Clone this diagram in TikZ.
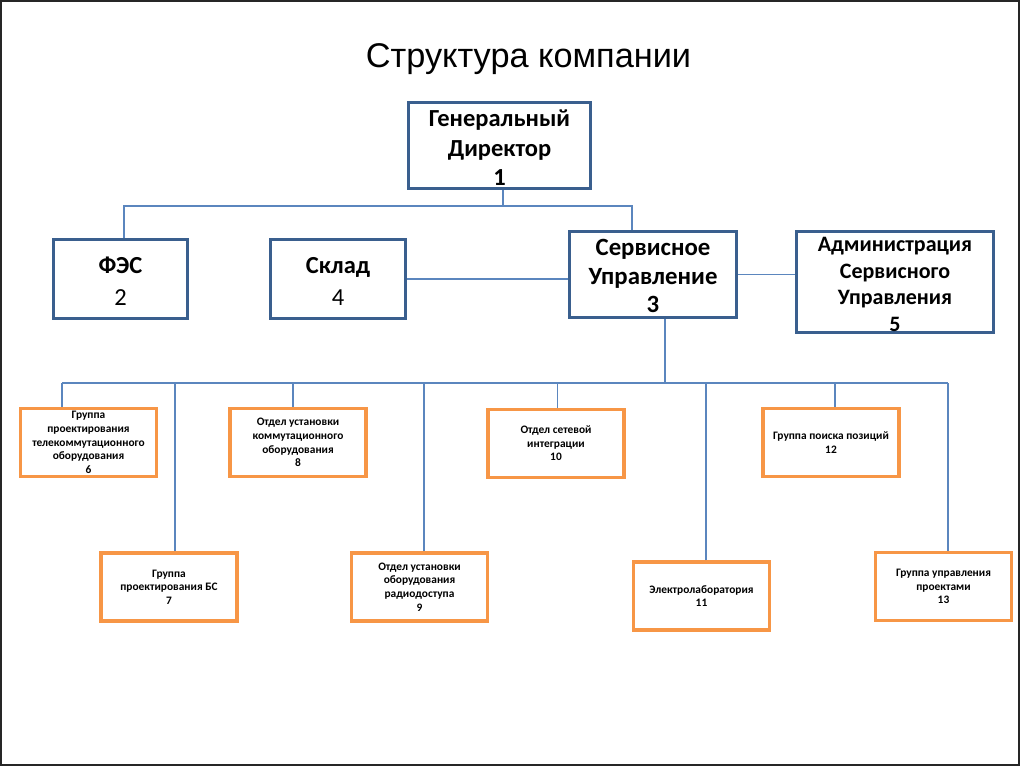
\documentclass[tikz,border=0pt]{standalone}
\usepackage{fontspec}
\setmainfont{Carlito}
\newfontfamily\arialf{Liberation Sans}
\definecolor{darkb}{HTML}{3A5F8E}
\definecolor{lightb}{HTML}{5B86BE}
\definecolor{orng}{HTML}{F79646}
\tikzset{
  mainbox/.style={draw=darkb, line width=3pt, fill=white, inner sep=0pt},
  boxtext/.style={align=center, inner sep=0pt},
  subbox/.style={draw=orng, line width=3.4pt, fill=white, align=center, inner sep=0pt,
     minimum width=136pt, minimum height=68pt,
     font=\fontsize{11.4}{13.6}\selectfont\bfseries},
  conn/.style={draw=lightb, line width=1.2pt},
}
\begin{document}
\begin{tikzpicture}[x=1pt,y=-1pt]
\useasboundingbox (0,0) rectangle (1024,768);
\fill[white] (0,0) rectangle (1024,768);
\draw[line width=2pt, black!85] (1,1) rectangle (1019,765);

\node[anchor=base, font=\arialf\fontsize{34.3}{40}\selectfont] (title) at (528.5,67) {Структура компании};

% top level boxes
\node[mainbox, minimum width=182pt, minimum height=86pt] (gd) at (499.5,145.5) {};
\node[boxtext, font=\fontsize{24.5}{29.5}\selectfont\bfseries] (gdt) at ([yshift=-2.5pt]gd.center)
      {Генеральный\\Директор\\1};
\node[mainbox, minimum width=134pt, minimum height=79pt] (fes) at (120.5,279) {};
\node[boxtext, font=\fontsize{24.5}{32}\selectfont] (fest) at ([yshift=-2pt]fes.center)
      {\textbf{ФЭС}\\2};
\node[mainbox, minimum width=135pt, minimum height=79pt] (sklad) at (338,279) {};
\node[boxtext, font=\fontsize{24.5}{32}\selectfont] (skladt) at ([yshift=-2pt]sklad.center)
      {\textbf{Склад}\\4};
\node[mainbox, minimum width=167pt, minimum height=86pt] (su) at (653,274.5) {};
\node[boxtext, font=\fontsize{24.8}{28.5}\selectfont\bfseries] (sut) at ([yshift=-1.5pt]su.center)
      {Сервисное\\Управление\\3};
\node[mainbox, minimum width=197pt, minimum height=101pt] (adm) at (895,282) {};
\node[boxtext, font=\fontsize{22}{26.8}\selectfont\bfseries] (admt) at ([yshift=-2.5pt]adm.center)
      {Администрация\\Сервисного\\Управления\\5};

% sub boxes
\node[subbox] (b6)  at (88.5,442.5) {Группа\\проектирования\\телекоммутационного\\оборудования\\6};
\node[subbox] (b8)  at (298,442.5)  {Отдел установки\\коммутационного\\оборудования\\8};
\node[subbox] (b10) at (556,443.5)  {Отдел сетевой\\интеграции\\10};
\node[subbox] (b12) at (831,442.5)  {Группа поиска позиций\\12};
\node[subbox] (b7)  at (169,587)    {Группа\\проектирования БС\\7};
\node[subbox] (b9)  at (419.5,587)  {Отдел установки\\оборудования\\радиодоступа\\9};
\node[subbox] (b11) at (701.5,596)  {Электролаборатория\\11};
\node[subbox] (b13) at (943.5,586.5){Группа управления\\проектами\\13};

% connectors, top level
\coordinate (j1) at (503,206);
\draw[conn] ([xshift=3.5]gd.south) -- (j1);
\draw[conn] ([xshift=3.5]fes.north) |- (j1) -| ([xshift=-21]su.north);
\draw[conn] (sklad.east) -- (sklad.east -| su.west);
\draw[conn] (su.east) -- (su.east -| adm.west);

% lower bus
\coordinate (bus) at (665,383);
\draw[conn] ([xshift=12]su.south) -- (bus);
\coordinate (busL) at (62,383);
\coordinate (busR) at (948,383);
\draw[conn] (busL) -- (busR);
\draw[conn] ([xshift=-26.5]b6.north) -- ([xshift=-26.5]b6.north |- bus);
\draw[conn] ([xshift=6]b7.north)    -- ([xshift=6]b7.north |- bus);
\draw[conn] ([xshift=-5]b8.north)   -- ([xshift=-5]b8.north |- bus);
\draw[conn] ([xshift=4.5]b9.north)  -- ([xshift=4.5]b9.north |- bus);
\draw[conn] ([xshift=1.5]b10.north) -- ([xshift=1.5]b10.north |- bus);
\draw[conn] ([xshift=4.5]b11.north) -- ([xshift=4.5]b11.north |- bus);
\draw[conn] ([xshift=4]b12.north)   -- ([xshift=4]b12.north |- bus);
\draw[conn] ([xshift=4.5]b13.north) -- ([xshift=4.5]b13.north |- bus);
\end{tikzpicture}
\end{document}
